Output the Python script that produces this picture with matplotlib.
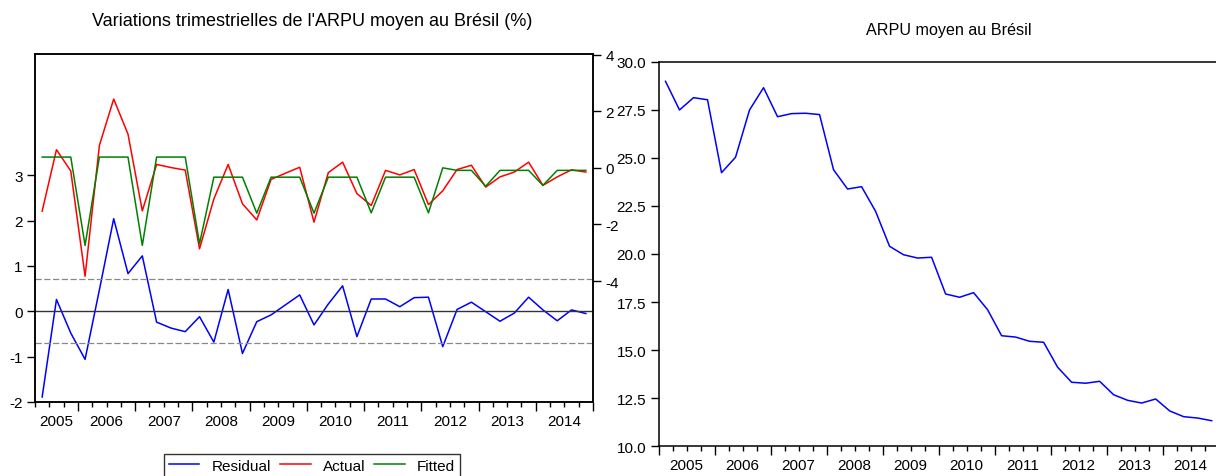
import numpy as np
import matplotlib.pyplot as plt
from matplotlib.transforms import blended_transform_factory

plt.rcParams['font.family'] = ['Liberation Sans', 'DejaVu Sans']
plt.rcParams['axes.unicode_minus'] = False

# quarterly variations, 2005Q2 - 2014Q4 (39 obs)
residual = [-1.89, 0.26, -0.48, -1.06, 0.47, 2.04, 0.83, 1.22, -0.24, -0.37,
            -0.45, -0.12, -0.68, 0.48, -0.93, -0.23, -0.08, 0.14, 0.36, -0.30,
            0.16, 0.56, -0.56, 0.27, 0.27, 0.10, 0.30, 0.31, -0.78, 0.04,
            0.20, -0.01, -0.22, -0.04, 0.31, 0.03, -0.21, 0.03, -0.05]
actual = [-1.53, 0.64, -0.11, -3.83, 0.79, 2.43, 1.19, -1.52, 0.12, 0.01,
          -0.08, -2.86, -1.10, 0.12, -1.27, -1.84, -0.41, -0.19, 0.02, -1.92,
          -0.17, 0.20, -0.91, -1.33, -0.09, -0.25, -0.06, -1.30, -0.81, -0.06,
          0.09, -0.68, -0.32, -0.15, 0.20, -0.62, -0.32, -0.07, -0.15]
fitted = [0.38, 0.38, 0.38, -2.74, 0.38, 0.38, 0.38, -2.74, 0.38, 0.38,
          0.38, -2.68, -0.33, -0.33, -0.33, -1.60, -0.33, -0.33, -0.33, -1.60,
          -0.33, -0.33, -0.33, -1.59, -0.33, -0.33, -0.33, -1.59, 0.0, -0.09,
          -0.09, -0.65, -0.09, -0.09, -0.09, -0.62, -0.09, -0.09, -0.09]

# ARPU level, 2005Q1 - 2014Q4 (40 obs)
arpu = [28.98, 27.49, 28.13, 28.02, 24.23, 25.03, 27.49, 28.65, 27.14, 27.30,
        27.32, 27.25, 24.38, 23.38, 23.50, 22.22, 20.40, 19.96, 19.79, 19.83,
        17.92, 17.75, 17.99, 17.10, 15.75, 15.68, 15.46, 15.41, 14.11, 13.33,
        13.28, 13.38, 12.68, 12.39, 12.25, 12.46, 11.84, 11.54, 11.47, 11.33]

years = ['2005', '2006', '2007', '2008', '2009', '2010', '2011', '2012', '2013', '2014']
quarters_left = [3, 4, 4, 4, 4, 4, 4, 4, 4, 4]
quarters_right = [4, 4, 4, 4, 4, 4, 4, 4, 4, 4]

resid_band = 0.70

fig = plt.figure(figsize=(12.16, 4.77), dpi=100)


def year_axis(ax, counts, label_y):
    n = sum(counts)
    ax.set_xlim(-0.5, n - 0.5)
    edges = np.concatenate([[-0.5], np.cumsum(counts) - 0.5])
    ax.set_xticks(edges[1:] if counts[0] < 4 else edges)
    ax.set_xticklabels([])
    ax.set_xticks(np.arange(n + 1) - 0.5, minor=True)
    ax.tick_params(axis='x', which='major', direction='out', length=6.5, width=1)
    ax.tick_params(axis='x', which='minor', direction='out', length=3.5, width=1)
    trans = blended_transform_factory(ax.transData, ax.transAxes)
    for yr, a, b in zip(years, edges[:-1], edges[1:]):
        ax.text((a + b) / 2, label_y, yr, transform=trans, ha='center', va='top', fontsize=11)


#left panel: residual / actual / fitted
ax1 = fig.add_axes([35 / 1216, 1 - 403 / 477, 558 / 1216, 348 / 477])
x_left = np.arange(len(residual))
l1, = ax1.plot(x_left, residual, color='#0000ff', lw=1.1, label='Residual')
ax1.axhline(0, color='#333333', lw=1)
ax1.axhline(resid_band, color='#888888', lw=0.9, ls=(0, (5, 2)))
ax1.axhline(-resid_band, color='#888888', lw=0.9, ls=(0, (5, 2)))
ax1.set_ylim(-2, 5.67)
ax1.set_yticks([-2, -1, 0, 1, 2, 3])
ax1.tick_params(axis='y', direction='out', length=6, width=1, labelsize=11, pad=3)
year_axis(ax1, quarters_left, -0.035)

ax2 = ax1.twinx()
l2, = ax2.plot(x_left, actual, color='#ff0000', lw=1.1, label='Actual')
l3, = ax2.plot(x_left, fitted, color='#008000', lw=1.1, label='Fitted')
ax2.set_ylim(-8.27, 4.02)
ax2.set_yticks([-4, -2, 0, 2, 4])
ax2.tick_params(axis='y', direction='out', length=6, width=1, labelsize=11, pad=3)
for a in (ax1, ax2):
    for s in a.spines.values():
        s.set_linewidth(1.1)

fig.text(312 / 1216, 1 - 22 / 477, "Variations trimestrielles de l'ARPU moyen au Brésil (%)",
         ha='center', va='center', fontsize=13)

leg = fig.legend(handles=[l1, l2, l3], loc='upper center', ncol=3,
                 bbox_to_anchor=(312 / 1216, 1 - 455 / 477), fontsize=11,
                 frameon=True, fancybox=False, edgecolor='black',
                 handlelength=2.0, columnspacing=0.6, handletextpad=0.8,
                 borderpad=0.3, borderaxespad=0)
leg.get_frame().set_linewidth(1)

#right panel: ARPU
ax3 = fig.add_axes([658.5 / 1216, 1 - 447.3 / 477, 560.2 / 1216, 384.6 / 477])
ax3.plot(np.arange(len(arpu)), arpu, color='#0000ff', lw=1.1)
ax3.set_ylim(10, 30)
ax3.set_yticks([10, 12.5, 15, 17.5, 20, 22.5, 25, 27.5, 30])
ax3.set_yticklabels(['10.0', '12.5', '15.0', '17.5', '20.0', '22.5', '25.0', '27.5', '30.0'])
ax3.tick_params(axis='y', direction='out', length=6, width=1, labelsize=11, pad=3)
year_axis(ax3, quarters_right, -0.03)
for s in ax3.spines.values():
    s.set_linewidth(1.1)

fig.text(949 / 1216, 1 - 30 / 477, 'ARPU moyen au Brésil', ha='center', va='center',
         fontsize=11.6)

fig.savefig('out.png', dpi=100)
